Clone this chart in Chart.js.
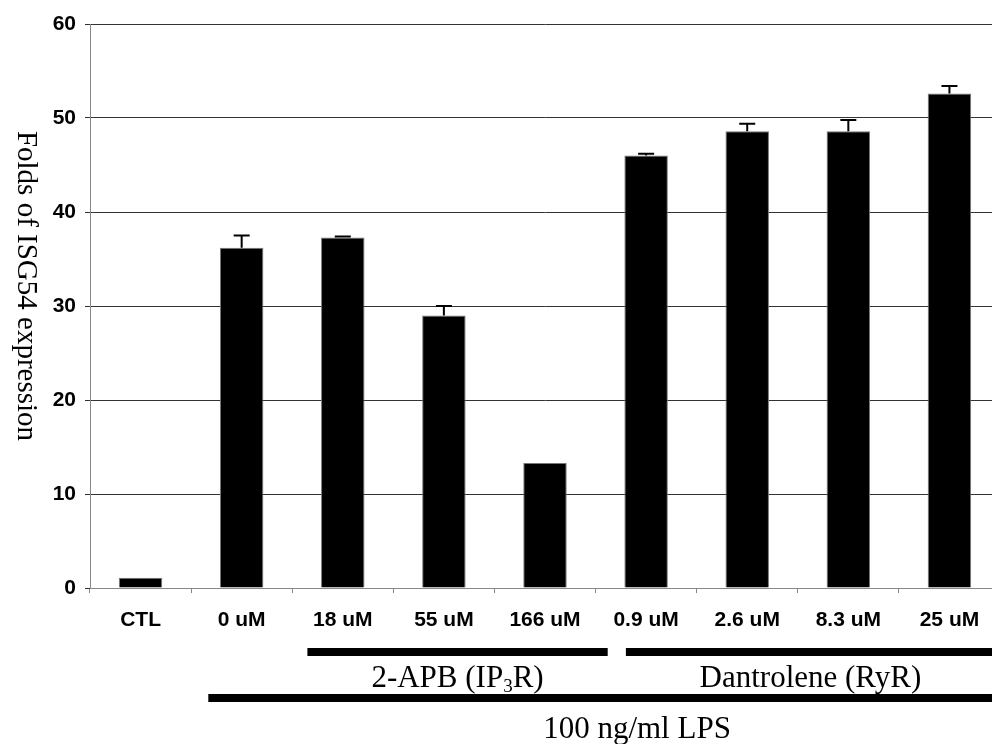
<!DOCTYPE html>
<html>
<head>
<meta charset="utf-8">
<script src="https://cdn.jsdelivr.net/npm/chart.js@4/dist/chart.umd.min.js"></script>
<style>
  html, body { margin: 0; padding: 0; overflow: hidden; background: #fff; }
  #wrap { width: 1000px; height: 744px; }
</style>
</head>
<body>
<div id="wrap"><canvas id="myChart"></canvas></div>
<script>
// data
var labels = ["CTL", "0 uM", "18 uM", "55 uM", "166 uM", "0.9 uM", "2.6 uM", "8.3 uM", "25 uM"];
var foldValues = [1.1, 36.2, 37.3, 29.0, 13.3, 46.0, 48.6, 48.6, 52.6];
var foldErrors = [0, 1.3, 0.1, 1.0, 0, 0.2, 0.8, 1.2, 0.8];
var yTicks = [0, 10, 20, 30, 40, 50, 60];

// treatment groups below the axis, spans in category units
var groupNames = ["2-APB (IP|3|R)", "Dantrolene (RyR)"];
var groupFrom = [1.65, 4.8];
var groupTo = [4.62, 8.45];
var lpsName = "100 ng/ml LPS";
var lpsFrom = 0.67;
var lpsTo = 9.15;

var serif = '"Liberation Serif", "Times New Roman", serif';
var sans = '"Liberation Sans", Arial, sans-serif';

// error bars, upper side only
var errorBars = {
  id: "errorBars",
  afterDatasetsDraw: function (chart) {
    var ctx = chart.ctx;
    var meta = chart.getDatasetMeta(0);
    var y = chart.scales.y;
    ctx.save();
    ctx.strokeStyle = "#000";
    ctx.lineWidth = 2;
    meta.data.forEach(function (bar, i) {
      if (!foldErrors[i]) return;
      var top = y.getPixelForValue(foldValues[i] + foldErrors[i]);
      var base = y.getPixelForValue(foldValues[i]);
      ctx.beginPath();
      ctx.moveTo(bar.x, base);
      ctx.lineTo(bar.x, top);
      ctx.moveTo(bar.x - 8, top);
      ctx.lineTo(bar.x + 8, top);
      ctx.stroke();
    });
    ctx.restore();
  }
};

function drawSubText(ctx, text, cx, baseline, size) {
  // "a|b|c" -> b is a subscript
  var parts = text.split("|");
  var small = Math.round(size * 0.62);
  var widths = parts.map(function (p, k) {
    ctx.font = (k === 1 ? small : size) + "px " + serif;
    return ctx.measureText(p).width;
  });
  var total = widths.reduce(function (a, b) { return a + b; }, 0);
  var x = cx - total / 2;
  ctx.textAlign = "left";
  ctx.textBaseline = "alphabetic";
  parts.forEach(function (p, k) {
    ctx.font = (k === 1 ? small : size) + "px " + serif;
    ctx.fillText(p, x, k === 1 ? baseline + 5 : baseline);
    x += widths[k];
  });
}

// y title (reads top to bottom) and the group bars under the axis
var annotations = {
  id: "annotations",
  afterDraw: function (chart) {
    var ctx = chart.ctx;
    var x = chart.scales.x;
    var area = chart.chartArea;
    ctx.save();
    ctx.fillStyle = "#000";

    ctx.translate(26, area.top + 262);
    ctx.rotate(Math.PI / 2);
    ctx.font = "29px " + serif;
    ctx.textAlign = "center";
    ctx.textBaseline = "middle";
    ctx.fillText("Folds of ISG54 expression", 0, 0);
    ctx.setTransform(1, 0, 0, 1, 0, 0);

    groupNames.forEach(function (name, i) {
      var a = x.getPixelForValue(groupFrom[i]);
      var b = x.getPixelForValue(groupTo[i]);
      ctx.fillRect(a, area.bottom + 60, b - a, 8);
      drawSubText(ctx, name, (a + b) / 2, area.bottom + 99, 31);
    });

    var la = x.getPixelForValue(lpsFrom);
    var lb = x.getPixelForValue(lpsTo);
    ctx.fillRect(la, area.bottom + 106, lb - la, 8);
    ctx.font = "31px " + serif;
    ctx.textAlign = "center";
    ctx.textBaseline = "alphabetic";
    ctx.fillText(lpsName, (la + lb) / 2, area.bottom + 150);
    ctx.restore();
  }
};

var ctx = document.getElementById("myChart").getContext("2d");
var chart = new Chart(ctx, {
  type: "bar",
  data: {
    labels: labels,
    datasets: [
      {
        data: foldValues,
        backgroundColor: "#000",
        borderColor: "#777",
        borderWidth: 1,
        barPercentage: 0.43,
        categoryPercentage: 1
      }
    ]
  },
  options: {
    responsive: true,
    maintainAspectRatio: false,
    animation: false,
    layout: { padding: { top: 24, left: 0, right: 0, bottom: 0 } },
    plugins: {
      legend: { display: false },
      tooltip: { enabled: false }
    },
    scales: {
      x: {
        afterFit: function (scale) { scale.height = 156; },
        grid: { display: true, drawOnChartArea: false, tickLength: 5, color: "#888", offset: true },
        border: { color: "#888", width: 1 },
        ticks: {
          color: "#000",
          padding: 15,
          maxRotation: 0,
          font: { family: sans, size: 21, weight: "bold" }
        }
      },
      y: {
        min: 0,
        max: 60,
        afterFit: function (scale) { scale.width = 90; },
        afterBuildTicks: function (scale) {
          scale.ticks = yTicks.map(function (v) { return { value: v }; });
        },
        grid: { color: "#333", lineWidth: 1, tickLength: 5 },
        border: { color: "#888", width: 1 },
        ticks: {
          color: "#000",
          padding: 9,
          font: { family: sans, size: 21, weight: "bold" }
        }
      }
    }
  },
  plugins: [errorBars, annotations]
});
</script>
</body>
</html>
